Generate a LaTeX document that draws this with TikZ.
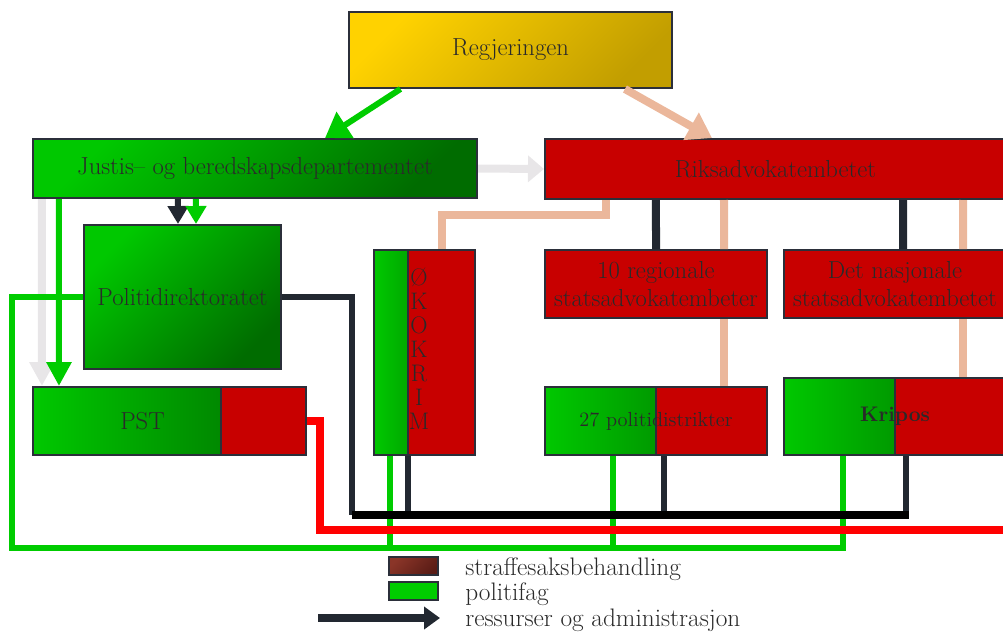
\documentclass[tikz,border=0pt]{standalone}
\usepackage{tikz}
\usetikzlibrary{shapes, fit, calc, arrows.meta}
\usepackage{xcolor}

\definecolor{goldA}{HTML}{FFD200}
\definecolor{goldB}{HTML}{C29E00}
\definecolor{gA}{HTML}{00C800}
\definecolor{gB}{HTML}{006C00}
\definecolor{redfill}{HTML}{C80000}
\definecolor{edge}{HTML}{2B2F3A}
\definecolor{txt}{HTML}{2A2A2A}
\definecolor{peach}{HTML}{EBB79B}
\definecolor{lgray}{HTML}{E8E6E8}
\definecolor{politi}{HTML}{00CC00}
\definecolor{dark}{HTML}{222831}
\definecolor{brownA}{HTML}{8A3528}
\definecolor{brownB}{HTML}{5A1C16}

\begin{document}
\begin{tikzpicture}[x=0.025cm, y=-0.025cm]
			\tikzstyle{box}=[
			draw=edge,
			line width=1.4pt,
			rectangle,
			inner sep=0pt,
			text=txt,
			align=center,
			font=\fontsize{17.5}{19.5}\selectfont
			]
			\tikzstyle{goldbox}=[box, top color=goldA, bottom color=goldB, shading angle=45]
			\tikzstyle{greenbox}=[box, top color=gA, bottom color=gB, shading angle=45]
			\tikzstyle{redbox}=[box, fill=redfill]
			\tikzset{splitbox/.style={redbox, path picture={
				\shade[left color=gA, right color=gB, draw=edge, line width=1.4pt]
				(path picture bounding box.south west) rectangle
				($(path picture bounding box.north west)+(#1,0)$);}}}
			\tikzstyle{lbl}=[text=txt, inner sep=0pt, font=\fontsize{17.5}{19.5}\selectfont]
			\tikzstyle{fat}=[line width=0.2cm, -{Triangle[width=0.75cm, length=0.6cm]}]
			\tikzstyle{politi}=[draw=politi, line width=0.15cm]
			\tikzstyle{ressurs}=[draw=dark, line width=0.15cm]
			\tikzstyle{tilsyn}=[draw=peach, line width=0.2cm]
			\clip (0,0) rectangle (1003,634);
			% boxes
			\node[goldbox, minimum width=8.075cm, minimum height=1.9cm] (REG) at (510.5,50) {Regjeringen};
			\node[greenbox, minimum width=11.1cm, minimum height=1.475cm] (JUS) at (255,168.5) {Justis-- og beredskapsdepartementet};
			\node[redbox, minimum width=11.525cm, minimum height=1.5cm] (RIKS) at (775.5,169) {Riksadvokatembetet};
			\node[greenbox, minimum width=4.925cm, minimum height=3.6cm] (POL) at (182.5,297) {Politidirektoratet};
			\node[splitbox=188, minimum width=6.825cm, minimum height=1.7cm] (PST) at (169.5,421) {};
			\node[lbl] (PSTT) at ([xshift=-0.675cm]PST.center) {PST};
			\node[splitbox=34, minimum width=2.525cm, minimum height=5.125cm] (OKR) at (424.5,352.5) {};
			\node[lbl, align=center, anchor=north, font=\fontsize{17}{17}\selectfont] (OKRT) at (419,268) {Ø\\K\\O\\K\\R\\I\\M};
			\node[redbox, minimum width=5.55cm, minimum height=1.7cm] (RSA) at (656,284) {10 regionale\\statsadvokatembeter};
			\node[redbox, minimum width=5.55cm, minimum height=1.7cm] (NSA) at (895,284) {Det nasjonale\\statsadvokatembetet};
			\node[splitbox=111, minimum width=5.55cm, minimum height=1.7cm, font=\fontsize{14.5}{16}\selectfont] (PD) at (656,421) {27 politidistrikter};
			\node[splitbox=111, minimum width=5.55cm, minimum height=1.925cm, font=\bfseries\fontsize{15}{17}\selectfont] (KRI) at (895,416.5) {Kripos};
			% styring
			\draw[fat, politi] ([xshift=-2.75cm]REG.south) -- ([xshift=1.75cm]JUS.north);
			\draw[fat, peach] ([xshift=2.86cm]REG.south) -- ([xshift=-1.5875cm]RIKS.north);
			\draw[line width=0.2cm, lgray, -{Triangle[width=0.65cm, length=0.4cm]}] (JUS.east) -- (RIKS.west);
			\draw[line width=0.15cm, dark, -{Triangle[width=0.5cm, length=0.45cm]}] ([xshift=-1.925cm]JUS.south) -- ([xshift=-0.1125cm]POL.north);
			\draw[line width=0.15cm, politi, -{Triangle[width=0.5cm, length=0.45cm]}] ([xshift=-1.475cm]JUS.south) -- ([xshift=0.3375cm]POL.north);
			\draw[line width=0.2cm, lgray, -{Triangle[width=0.6cm, length=0.6cm]}] ([xshift=-5.325cm]JUS.south) -- ([xshift=-3.1875cm]PST.north);
			\draw[line width=0.2cm, politi, -{Triangle[width=0.6cm, length=0.6cm]}] ([xshift=-4.9cm]JUS.south) -- ([xshift=-2.7625cm]PST.north);
			% riksadvokaten
			\draw[line width=0.2cm, dark] ([xshift=-2.9875cm]RIKS.south) -- (RSA.north);
			\draw[tilsyn] ([xshift=-1.2875cm]RIKS.south) -- ([xshift=1.7cm]RSA.north);
			\draw[line width=0.2cm, dark] ([xshift=3.1875cm]RIKS.south) -- ([xshift=0.2cm]NSA.north);
			\draw[tilsyn] ([xshift=4.6875cm]RIKS.south) -- ([xshift=1.7cm]NSA.north);
			\draw[tilsyn] ([xshift=1.7cm]RSA.south) -- ([xshift=1.7cm]PD.north);
			\draw[tilsyn] ([xshift=1.7cm]NSA.south) -- ([xshift=1.7cm]KRI.north);
			\draw[tilsyn] ([xshift=0.4375cm]OKR.north) -- ++(0,-34) -| ([xshift=-4.2375cm]RIKS.south);
			% politifag
			\coordinate (GBOT) at (12,548);
			\draw[politi] (POL.west) -| (GBOT) -| ([xshift=-1.3cm]KRI.south);
			\draw[politi] ([xshift=-0.8625cm]OKR.south) |- (GBOT);
			\draw[politi] ([xshift=-1.075cm]PD.south) |- (GBOT);
			% straffesak
			\coordinate (RBOT) at (320,530);
			\coordinate (REND) at (1010,530);
			\draw[line width=0.18cm, red] (PST.east) -| (RBOT) -- (REND);
			% ressurser
			\coordinate (DBOT) at (352,515);
			\draw[ressurs] (POL.east) -| (DBOT);
			\draw[ressurs] ([xshift=-0.4125cm]OKR.south) |- (DBOT);
			\draw[ressurs] ([xshift=0.2cm]PD.south) |- (DBOT);
			\draw[ressurs] ([xshift=0.275cm]KRI.south) |- (DBOT);
			\coordinate (DEND) at (909,515);
			\draw[line width=0.2cm, black] (DBOT) -- (DEND);
			% legend
			\node[draw=edge, line width=1pt, top color=brownA, bottom color=brownB, shading angle=45, minimum width=1.225cm, minimum height=0.45cm, inner sep=0pt] (LEGS) at (413.5,566) {};
			\node[draw=edge, line width=1pt, fill=politi, minimum width=1.225cm, minimum height=0.45cm, inner sep=0pt] (LEGP) at (413.5,591) {};
			\coordinate (LEGA) at (318,618);
			\coordinate (LEGB) at (440,618);
			\draw[line width=0.2cm, dark, -{Triangle[width=0.55cm, length=0.4cm]}] (LEGA) -- (LEGB);
			\node[lbl, anchor=west, font=\fontsize{18}{20}\selectfont] (LEGST) at (465,569) {straffesaksbehandling};
			\node[lbl, anchor=west, font=\fontsize{18}{20}\selectfont] (LEGPT) at (465,594) {politifag};
			\node[lbl, anchor=west, font=\fontsize{18}{20}\selectfont] (LEGRT) at (465,620) {ressurser og administrasjon};
		\end{tikzpicture}
\end{document}
